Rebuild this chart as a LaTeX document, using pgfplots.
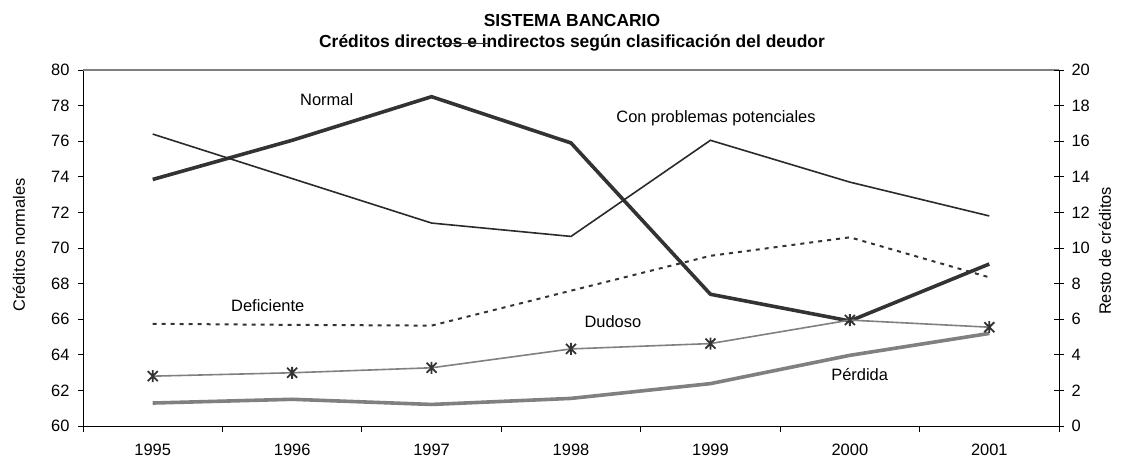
\documentclass[border=0pt]{standalone}
\usepackage{fontspec}
\setmainfont{Liberation Sans}
\usepackage{pgfplots}
\pgfplotsset{compat=1.18}
\definecolor{dk}{HTML}{333333}
\definecolor{gr}{HTML}{808080}
\definecolor{ln}{HTML}{2A2A2A}
\pgfdeclareplotmark{xstar}{%
  \pgfpathmoveto{\pgfqpoint{-\pgfplotmarksize}{-\pgfplotmarksize}}%
  \pgfpathlineto{\pgfqpoint{\pgfplotmarksize}{\pgfplotmarksize}}%
  \pgfpathmoveto{\pgfqpoint{-\pgfplotmarksize}{\pgfplotmarksize}}%
  \pgfpathlineto{\pgfqpoint{\pgfplotmarksize}{-\pgfplotmarksize}}%
  \pgfpathmoveto{\pgfqpoint{0pt}{-1.2\pgfplotmarksize}}%
  \pgfpathlineto{\pgfqpoint{0pt}{1.2\pgfplotmarksize}}%
  \pgfusepathqstroke}
\begin{document}
\begin{tikzpicture}[x=1bp,y=1bp]
\useasboundingbox (-83,-33) rectangle (1048,426);
\pgfplotsset{
  every axis/.append style={
    scale only axis, width=976bp, height=356bp,
    at={(0,0)}, anchor=south west,
    xmin=-0.5, xmax=6.5,
    font=\fontsize{16.5}{19}\selectfont,
    /pgf/number format/assume math mode=true,
    clip=false,
  }
}
\begin{axis}[
  ymin=60, ymax=80, ytick={60,62,...,80},
  axis x line=bottom, axis y line=left,
  axis line style={black, line width=0.9bp, -},
  xtick={0,1,2,3,4,5,6},
  xticklabels={1995,1996,1997,1998,1999,2000,2001},
  major x tick style={draw=none},
  minor xtick={-0.5,0.5,1.5,2.5,3.5,4.5,5.5,6.5},
  minor x tick style={black, line width=0.9bp},
  minor tick length=6bp,
  xtick align=outside, ytick align=outside,
  major tick length=5bp,
  y tick style={black, line width=0.9bp},
  xticklabel style={yshift=-10bp},
  yticklabel style={xshift=-5bp},
]
\draw[gr, line width=1.2bp] (rel axis cs:0,1) -- (rel axis cs:1,1);
\addplot[dk, line width=3.6bp, line join=round] coordinates {(0,73.85)(1,76.05)(2,78.5)(3,75.9)(4,67.4)(5,65.9)(6,69.1)};
\node[anchor=base] at (axis cs:1.248,77.98) {Normal};
\node[anchor=base] at (axis cs:4.04,77.04) {Con problemas potenciales};
\node[anchor=base] at (axis cs:0.825,66.46) {Deficiente};
\node[anchor=base] at (axis cs:3.30,65.51) {Dudoso};
\node[anchor=base] at (axis cs:5.07,62.58) {Pérdida};
\end{axis}
\begin{axis}[
  ymin=0, ymax=20, ytick={0,2,...,20},
  axis y line*=right, hide x axis,
  axis line style={black, line width=0.9bp, -},
  ytick align=center, major tick length=10bp,
  y tick style={black, line width=0.9bp},
  yticklabel style={xshift=4bp},
]
\addplot[ln, line width=1.6bp] coordinates {(0,16.4)(1,13.9)(2,11.4)(3,10.65)(4,16.05)(5,13.7)(6,11.8)};
\addplot[dk, line width=2bp, dash pattern=on 4bp off 5bp] coordinates {(0,5.74)(1,5.68)(2,5.64)(3,7.6)(4,9.56)(5,10.6)(6,8.35)};
\addplot[gr, line width=3.6bp, line join=round] coordinates {(0,1.29)(1,1.5)(2,1.21)(3,1.55)(4,2.38)(5,3.97)(6,5.2)};
\addplot[gr, line width=1.6bp, mark=xstar, mark size=5bp, mark options={dk, line width=1.8bp}] coordinates {(0,2.8)(1,2.99)(2,3.27)(3,4.33)(4,4.63)(5,5.95)(6,5.55)};
\end{axis}
\node[rotate=90] at (-64,181) {\fontsize{16.5}{19}\selectfont Créditos normales};
\node[rotate=90] at (1022,175) {\fontsize{16.5}{19}\selectfont Resto de créditos};
\node[anchor=base] at (489,399) {\fontsize{17.5}{20}\selectfont\bfseries SISTEMA BANCARIO};
\node[anchor=base] at (489,378) {\fontsize{17.5}{20}\selectfont\bfseries Créditos directos e indirectos según clasificación del deudor};
\draw[dk, line width=0.8bp] (357,382.5) -- (406,382.5);
\end{tikzpicture}
\end{document}
